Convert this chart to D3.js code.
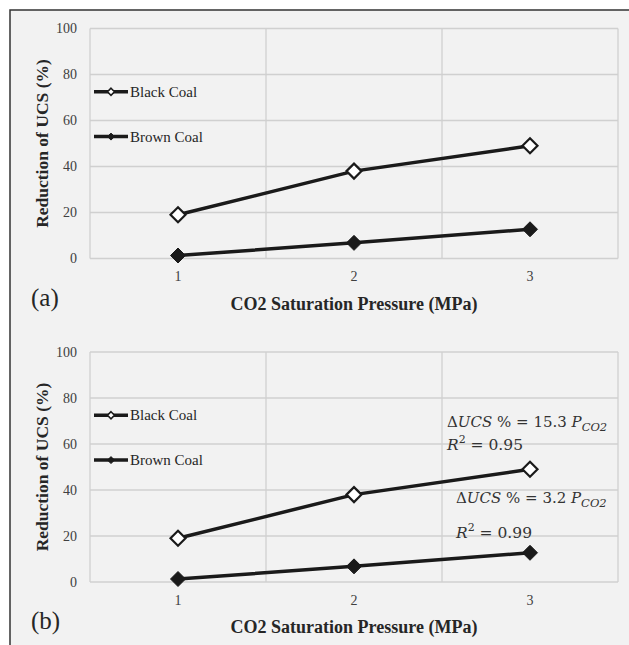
<!DOCTYPE html>
<html>
<head>
<meta charset="utf-8">
<script src="https://cdn.jsdelivr.net/npm/d3@7"></script>
<style>
  html, body { margin: 0; padding: 0; background: #fff; }
  svg text { font-family: "Liberation Serif", "Times New Roman", serif; }
</style>
</head>
<body>
<svg id="chart" width="629" height="645"></svg>
<script>
// data
const pressures = ["1", "2", "3"];
const blackCoal = [19, 38, 49];
const brownCoal = [1.3, 6.8, 12.7];
const yTicks = [0, 20, 40, 60, 80, 100];
const panelLabels = ["(a)", "(b)"];

const svg = d3.select('#chart');
const W = 629, H = 645;

// grey figure background with dark top/left frame
svg.append('rect').attr('x', 10).attr('y', 10).attr('width', W - 10).attr('height', H - 10)
    .attr('fill', '#f2f2f2');
svg.append('path').attr('d', `M10,${H} L10,10 L${W},10`)
    .attr('fill', 'none').attr('stroke', '#333').attr('stroke-width', 1.5);

const plotLeft = 90, plotRight = 618, plotH = 230;
const panelTops = [28.5, 352];

const x = d3.scaleBand().domain(pressures).range([plotLeft, plotRight]);

function diamond(g, cx, cy, r, fill, sw) {
    g.append('path')
        .attr('d', `M${cx},${cy - r} L${cx + r},${cy} L${cx},${cy + r} L${cx - r},${cy} Z`)
        .attr('fill', fill).attr('stroke', '#1a1a1a').attr('stroke-width', sw);
}

function drawPanel(top, label, withEq) {
    const g = svg.append('g');
    const y = d3.scaleLinear().domain([0, 100]).range([top + plotH, top]);

    // gridlines + frame
    yTicks.forEach(t => {
        g.append('line').attr('x1', plotLeft).attr('x2', plotRight)
            .attr('y1', y(t)).attr('y2', y(t))
            .attr('stroke', '#d0d0d0').attr('stroke-width', 1.3);
    });
    [plotLeft, plotLeft + x.bandwidth(), plotLeft + 2 * x.bandwidth(), plotRight].forEach(v => {
        g.append('line').attr('x1', v).attr('x2', v)
            .attr('y1', top).attr('y2', top + plotH)
            .attr('stroke', '#d0d0d0').attr('stroke-width', 1.3);
    });

    // axes
    const yAxis = g.append('g').attr('transform', `translate(${plotLeft},0)`)
        .call(d3.axisLeft(y).tickValues(yTicks).tickSize(0).tickPadding(13));
    yAxis.select('.domain').remove();
    yAxis.selectAll('text').attr('font-size', 14).attr('fill', '#404040')
        .style('font-family', '"Liberation Serif", serif');

    const xAxis = g.append('g').attr('transform', `translate(0,${top + plotH})`)
        .call(d3.axisBottom(x).tickSize(0).tickPadding(13));
    xAxis.select('.domain').remove();
    xAxis.selectAll('text').attr('font-size', 14).attr('fill', '#404040')
        .style('font-family', '"Liberation Serif", serif');

    // titles
    g.append('text')
        .attr('transform', `translate(48,${top + plotH / 2}) rotate(-90)`)
        .attr('text-anchor', 'middle').attr('font-size', 17.5).attr('font-weight', 'bold')
        .attr('fill', '#262626').text('Reduction of UCS (%)');
    g.append('text')
        .attr('x', (plotLeft + plotRight) / 2).attr('y', top + plotH + 51)
        .attr('text-anchor', 'middle').attr('font-size', 18).attr('font-weight', 'bold')
        .attr('fill', '#262626').text('CO2 Saturation Pressure (MPa)');
    g.append('text').attr('x', 31).attr('y', top + plotH + 47)
        .attr('font-size', 25).attr('fill', '#262626').text(label);

    // series
    const line = d3.line().x((d, i) => x(pressures[i]) + x.bandwidth() / 2).y(d => y(d));
    [[blackCoal, '#fff', 2.2], [brownCoal, '#1a1a1a', 1]].forEach(([vals, fill, sw]) => {
        g.append('path').attr('d', line(vals)).attr('fill', 'none')
            .attr('stroke', '#1a1a1a').attr('stroke-width', 3.5);
        vals.forEach((v, i) => diamond(g, x(pressures[i]) + x.bandwidth() / 2, y(v), 7.5, fill, sw));
    });

    // legend
    [['Black Coal', '#fff', 1.6, 72.5], ['Brown Coal', '#1a1a1a', 1, 53]].forEach(([name, fill, sw, yv]) => {
        const ly = y(yv);
        g.append('line').attr('x1', 94).attr('x2', 128).attr('y1', ly).attr('y2', ly)
            .attr('stroke', '#1a1a1a').attr('stroke-width', 3.5);
        diamond(g, 111, ly, 3.5, fill, sw);
        g.append('text').attr('x', 130).attr('y', ly + 5).attr('font-size', 15)
            .attr('fill', '#262626').text(name);
    });

    if (withEq) {
        const eqFont = '"DejaVu Serif", serif';
        const eqs = [
            { x: 447, y: top + 75, coef: '15.3', r2: '0.95', ry: top + 98 },
            { x: 456, y: top + 151, coef: '3.2', r2: '0.99', ry: top + 186 }
        ];
        eqs.forEach(e => {
            const t = g.append('text').attr('x', e.x).attr('y', e.y)
                .attr('font-size', 15).attr('fill', '#333').style('font-family', eqFont);
            t.append('tspan').text('Δ');
            t.append('tspan').attr('font-style', 'italic').text('UCS');
            t.append('tspan').text(` % = ${e.coef} `);
            t.append('tspan').attr('font-style', 'italic').text('P');
            t.append('tspan').attr('font-style', 'italic').attr('font-size', 11.5).attr('dy', 4).text('CO2');
            const r = g.append('text').attr('x', e.x).attr('y', e.ry)
                .attr('font-size', 15.5).attr('fill', '#333').style('font-family', eqFont);
            r.append('tspan').attr('font-style', 'italic').text('R');
            r.append('tspan').attr('font-size', 11).attr('dy', -7).text('2');
            r.append('tspan').attr('dy', 7).text(` = ${e.r2}`);
        });
    }
}

drawPanel(panelTops[0], panelLabels[0], false);
drawPanel(panelTops[1], panelLabels[1], true);
</script>
</body>
</html>
